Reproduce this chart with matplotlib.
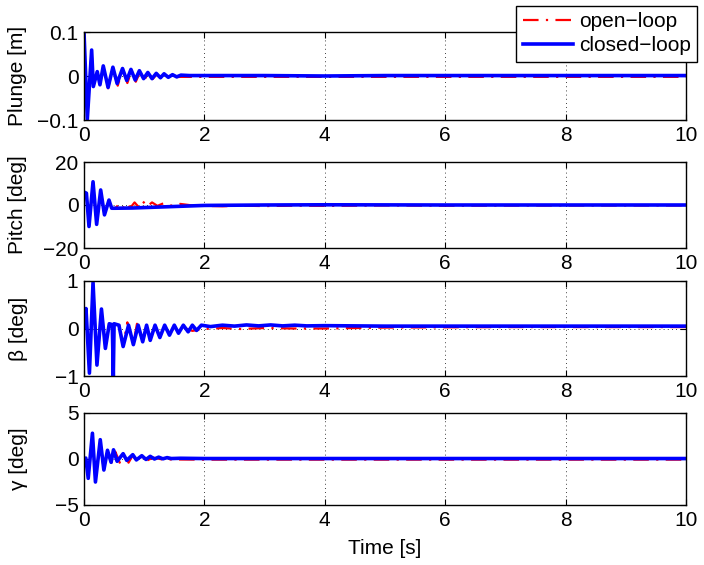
import matplotlib
matplotlib.use("Agg")
import matplotlib.pyplot as plt

plt.rcParams["font.family"] = ["Liberation Sans", "DejaVu Sans"]
plt.rcParams["font.size"] = 15

# plunge [m]
t_plunge_cl = [0, 0.055, 0.127, 0.155, 0.22, 0.265, 0.32, 0.40, 0.48, 0.55, 0.64, 0.71, 0.78, 0.85,
               0.92, 0.99, 1.06, 1.13, 1.20, 1.27, 1.33, 1.40, 1.47, 1.54, 1.61, 1.75, 2.0, 3.0, 4.0,
               5.0, 7.0, 10.0]
plunge_cl = [0.1, -0.098, 0.059, -0.024, 0.01, -0.02, 0.023, -0.026, 0.02, -0.017, 0.017, -0.01,
             0.015, -0.009, 0.012, -0.006, 0.008, -0.006, 0.006, -0.004, 0.005, -0.003, 0.003,
             -0.002, 0.002, 0.001, 0.001, 0.001, 0.0, 0.001, 0.001, 0.001]
t_plunge_ol = [0, 0.055, 0.127, 0.155, 0.22, 0.265, 0.32, 0.40, 0.48, 0.56, 0.64, 0.72, 0.79, 0.86,
               0.93, 1.0, 1.07, 1.14, 1.21, 1.28, 1.35, 1.45, 1.6, 2.0, 3.0, 5.0, 7.0, 10.0]
plunge_ol = [0.1, -0.097, 0.058, -0.025, 0.01, -0.021, 0.022, -0.028, 0.018, -0.022, 0.015, -0.016,
             0.012, -0.013, 0.009, -0.009, 0.006, -0.007, 0.004, -0.005, 0.002, -0.003, -0.002,
             -0.002, -0.002, -0.002, -0.002, -0.002]

# pitch [deg]
t_pitch_cl = [0, 0.04, 0.083, 0.15, 0.21, 0.277, 0.34, 0.415, 0.46, 0.52, 0.8, 1.2, 1.6, 2.0,
              3.0, 4.0, 6.0, 10.0]
pitch_cl = [6, 5.5, -10, 10.8, -9, 7, -4.6, 2.3, -1.5, -1.5, -1.4, -1.0, -0.6, -0.2, 0, 0.1, 0, 0]
t_pitch_ol = [0, 0.04, 0.083, 0.15, 0.21, 0.277, 0.34, 0.415, 0.46, 0.52, 0.58, 0.64, 0.70, 0.77,
              0.84, 0.91, 0.98, 1.05, 1.13, 1.22, 1.32, 1.45, 1.6, 1.8, 2.0, 2.3, 2.6, 3.0, 3.5,
              4.0, 5.0, 6.0, 8.0, 10.0]
pitch_ol = [6, 5.5, -9.8, 10.5, -8.8, 6.8, -4.5, 2.2, -1.5, -1.5, 0.3, -1.6, 0.8, -1.3, 1.2, -1.0,
            1.6, -0.6, 1.2, -0.4, 0.8, -0.3, 0.5, -0.2, -0.4, -0.6, -0.3, -0.5, -0.3, -0.4,
            -0.2, -0.3, -0.2, -0.2]

# beta [deg]
t_beta_cl = [0, 0.033, 0.09, 0.15, 0.215, 0.29, 0.355, 0.42, 0.47, 0.487, 0.50, 0.58, 0.65, 0.74,
             0.82, 0.90, 0.975, 1.04, 1.10, 1.18, 1.26, 1.34, 1.42, 1.50, 1.57, 1.65, 1.73, 1.80,
             1.87, 1.95, 2.1, 2.3, 2.5, 2.7, 2.9, 3.1, 3.3, 3.5, 3.7, 4.0, 5.0, 7.0, 10.0]
beta_cl = [0.03, 0.42, -0.94, 0.97, -0.77, 0.41, -0.42, 0.1, 0.08, -1.0, 0.1, 0.07, -0.38, 0.07,
           -0.34, 0.07, -0.28, 0.07, -0.25, 0.07, -0.19, 0.07, -0.14, 0.07, -0.1, 0.07, -0.07,
           0.07, -0.04, 0.07, 0.04, 0.07, 0.05, 0.075, 0.055, 0.075, 0.055, 0.07, 0.055, 0.06,
           0.05, 0.05, 0.05]
t_beta_ol = [0, 0.033, 0.09, 0.15, 0.215, 0.29, 0.355, 0.42, 0.5, 0.58, 0.65, 0.72, 0.82, 0.88,
             0.975, 1.04, 1.10, 1.18, 1.26, 1.34, 1.42, 1.5, 1.57, 1.65, 1.8, 2.0, 2.3, 2.6, 3.0,
             3.5, 4.0, 5.0, 7.0, 10.0]
beta_ol = [0.03, 0.4, -0.9, 0.95, -0.75, 0.4, -0.4, 0.1, 0.0, 0.1, -0.35, 0.13, -0.32, 0.1, -0.27,
           0.06, -0.22, 0.05, -0.17, 0.04, -0.12, 0.03, -0.09, 0.02, -0.05, -0.01, 0.01, -0.01,
           0.01, 0.0, 0.0, 0.02, 0.03, 0.03]

# gamma [deg]
t_gamma_cl = [0, 0.03, 0.07, 0.14, 0.19, 0.27, 0.33, 0.39, 0.45, 0.49, 0.55, 0.65, 0.71, 0.81,
              0.87, 0.96, 1.03, 1.10, 1.17, 1.24, 1.31, 1.38, 1.45, 1.6, 2.0, 3.0, 5.0, 10.0]
gamma_cl = [0, 0.1, -2.1, 2.8, -2.5, 2.1, -1.2, 0.95, -0.36, 1.0, -0.25, 0.58, -0.15, 0.47, -0.1,
            0.36, -0.05, 0.29, 0.0, 0.2, 0.02, 0.15, 0.05, 0.08, 0.05, 0.05, 0.05, 0.05]
t_gamma_ol = [0, 0.03, 0.07, 0.14, 0.19, 0.27, 0.33, 0.39, 0.45, 0.52, 0.60, 0.67, 0.74, 0.81,
              0.88, 0.96, 1.05, 1.15, 1.3, 1.5, 2.0, 3.0, 5.0, 10.0]
gamma_ol = [0, 0.1, -2.0, 2.7, -2.4, 2.0, -1.3, 0.9, -0.5, 0.8, -0.5, 0.5, -0.4, 0.4, -0.25, 0.3,
            -0.15, 0.15, -0.05, -0.05, -0.07, -0.07, -0.07, -0.07]

ylabels = ["Plunge [m]", "Pitch [deg]", "\u03b2 [deg]", "\u03b3 [deg]"]
ylims = [0.1, 20, 1, 5]
series = [
    (t_plunge_ol, plunge_ol, t_plunge_cl, plunge_cl),
    (t_pitch_ol, pitch_ol, t_pitch_cl, pitch_cl),
    (t_beta_ol, beta_ol, t_beta_cl, beta_cl),
    (t_gamma_ol, gamma_ol, t_gamma_cl, gamma_cl),
]
# axes boxes in pixels: (top, bottom)
boxes = [(32, 120), (162, 248), (281, 376), (413, 505)]

W, H = 704, 565
fig = plt.figure(figsize=(W / 100, H / 100), dpi=100)
left, right = 84, 686

for (top, bot), lim, lab, (to, yo, tc, yc) in zip(boxes, ylims, ylabels, series):
    ax = fig.add_axes([left / W, 1 - bot / H, (right - left) / W, (bot - top) / H])
    l1, = ax.plot(to, yo, color="red", lw=1.6, linestyle=(0, (7, 3.3, 1, 3.3)))
    l2, = ax.plot(tc, yc, color="blue", lw=2.6)
    ax.set_xlim(0, 10)
    ax.set_ylim(-lim, lim)
    ax.set_yticks([-lim, 0, lim])
    ax.set_xticks(range(0, 11, 2))
    if lim == 0.1:
        ax.set_yticklabels(["\u22120.1", "0", "0.1"])
    ax.grid(True, linestyle=(0, (1, 4)), color="black", lw=0.6)
    ax.tick_params(direction="in", top=True, right=True, length=4, width=0.8, pad=4)
    for s in ax.spines.values():
        s.set_linewidth(1.0)
    fig.text(18 / W, 1 - (top + bot) / 2 / H, lab, rotation=90, ha="center", va="center")

fig.text((left + right) / 2 / W, 1 - 548 / H, "Time [s]", ha="center", va="center")

leg = fig.legend([l1, l2], ["open\u2212loop", "closed\u2212loop"], loc="upper right",
                 bbox_to_anchor=(697 / W, 1 - 6 / H), borderaxespad=0, fancybox=False,
                 framealpha=1, edgecolor="black", handlelength=2.4, handletextpad=0.3,
                 labelspacing=0.25, borderpad=0.3, fontsize=15)
leg.get_frame().set_linewidth(1.0)

fig.savefig("out.png", dpi=100)
